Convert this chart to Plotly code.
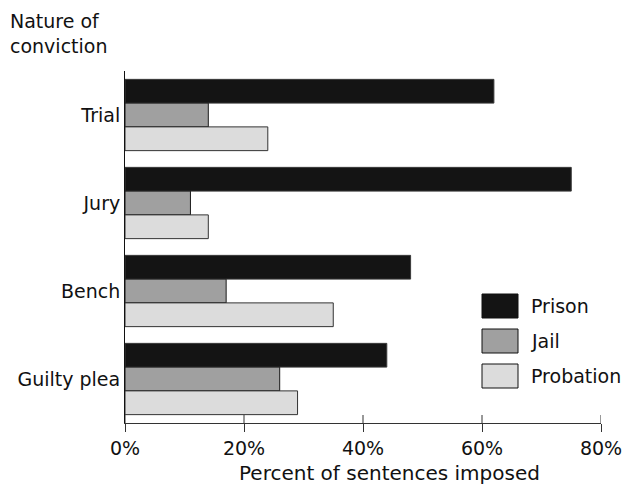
import plotly.graph_objects as go

categories = ["Trial", "Jury", "Bench", "Guilty plea"]
series_names = ["Prison", "Jail", "Probation"]
prison = [62, 75, 48, 44]
jail = [14, 11, 17, 26]
probation = [24, 14, 35, 29]
x_ticks = [0, 20, 40, 60, 80]
x_tick_labels = ["0%", "20%", "40%", "60%", "80%"]

fills = ["#141414", "#a0a0a0", "#dcdcdc"]
outlines = ["#3a3a3a", "#1a1a1a", "#333333"]
FONT = "DejaVu Sans"

# page body has an 8px default margin; compensate so the figure sits like the reference
OFF = 8
W, H = 638 - OFF, 487 - OFF
ML, MT = 125 - OFF, 71 - OFF
PW, PH = 476, 352
MR = W - ML - PW
MB = H - MT - PH

def px_x(px):
    return (px - OFF - ML) / PW

def px_y(py):
    return (MT + PH - (py - OFF)) / PH

fig = go.Figure()
for name, vals, fc, lc in zip(series_names, [prison, jail, probation], fills, outlines):
    fig.add_trace(go.Bar(
        name=name, y=categories, x=vals, orientation="h",
        marker=dict(color=fc, line=dict(color=lc, width=1)),
        showlegend=False,
    ))

shapes = []
# inner half of crossing tick marks
for t in x_ticks:
    shapes.append(dict(type="line", xref="x", yref="paper", ysizemode="pixel",
                       yanchor=0, x0=t, x1=t, y0=0, y1=8,
                       line=dict(color="#333333", width=1)))

annotations = []
# custom legend
legend_tops = [294, 329, 364]
for name, fc, top in zip(series_names, fills, legend_tops):
    shapes.append(dict(type="rect", xref="paper", yref="paper",
                       x0=px_x(482), x1=px_x(518), y0=px_y(top + 24), y1=px_y(top),
                       fillcolor=fc, line=dict(color="#111111", width=1)))
    annotations.append(dict(text=name, xref="paper", yref="paper",
                            x=px_x(529), y=px_y(top + 12), xanchor="left", yanchor="middle",
                            showarrow=False, font=dict(family=FONT, size=19, color="#111111")))

annotations.append(dict(text="Percent of sentences imposed", xref="paper", yref="paper",
                        x=px_x(389), y=px_y(473), xanchor="center", yanchor="middle",
                        showarrow=False, font=dict(family=FONT, size=20, color="#111111")))
annotations.append(dict(text="Nature of<br>conviction", xref="paper", yref="paper",
                        x=px_x(8), y=px_y(8), xanchor="left", yanchor="top", align="left",
                        showarrow=False, font=dict(family=FONT, size=19, color="#111111")))

fig.update_layout(
    width=W, height=H,
    margin=dict(l=ML, r=MR, t=MT, b=MB, autoexpand=False),
    paper_bgcolor="white", plot_bgcolor="white",
    barmode="group", bargap=0.19, bargroupgap=0,
    font=dict(family=FONT, size=18, color="#111111"),
    shapes=shapes, annotations=annotations,
    xaxis=dict(range=[0, 80], tickmode="array", tickvals=x_ticks, ticktext=x_tick_labels,
               showgrid=False, zeroline=False, showline=True, linecolor="#333333",
               ticks="outside", ticklen=8, tickcolor="#333333", tickwidth=1,
               tickfont=dict(family=FONT, size=19, color="#111111"),
               fixedrange=True),
    yaxis=dict(type="category", categoryorder="array", categoryarray=categories,
               range=[3.5, -0.5], showgrid=False, zeroline=False, showline=True,
               linecolor="#111111", ticks="",
               tickfont=dict(family=FONT, size=19, color="#111111"),
               fixedrange=True),
)

fig.write_html("out.html")
